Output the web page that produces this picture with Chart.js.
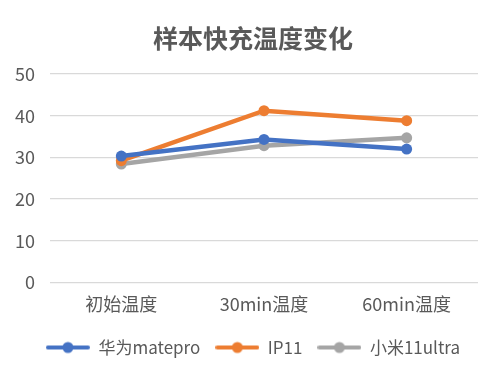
<!DOCTYPE html>
<html>
<head>
<meta charset="utf-8">
<script src="https://cdn.jsdelivr.net/npm/chart.js@4"></script>
<style>
    html, body { margin: 0; padding: 0; background: #fff; }
    #wrap { width: 500px; height: 376px; }
</style>
</head>
<body>
<div id="wrap"><canvas id="chart"></canvas></div>
<script>
const categories = ['初始温度', '30min温度', '60min温度'];
const huawei = [30.3, 34.3, 32.0];
const ip11 = [29.2, 41.2, 38.8];
const xiaomi = [28.4, 32.8, 34.7];
const seriesNames = ['华为matepro', 'IP11', '小米11ultra'];
const seriesColors = ['#4472C4', '#ED7D31', '#A5A5A5'];

const FONT = '"Noto Sans CJK SC", "Noto Sans", sans-serif';
const TEXT = '#595959';

// legend symbol: short line with a dot in the middle
function legendSymbol(color) {
    const c = document.createElement('canvas');
    c.width = 44;
    c.height = 14;
    const g = c.getContext('2d');
    g.strokeStyle = color;
    g.lineWidth = 4;
    g.lineCap = 'round';
    g.beginPath();
    g.moveTo(2, 7);
    g.lineTo(42, 7);
    g.stroke();
    g.fillStyle = color;
    g.beginPath();
    g.arc(22, 7, 5.5, 0, Math.PI * 2);
    g.fill();
    return c;
}

const allData = [huawei, ip11, xiaomi];
const datasets = allData.map((d, i) => ({
    label: seriesNames[i],
    data: d,
    borderColor: seriesColors[i],
    backgroundColor: seriesColors[i],
    borderWidth: 4.5,
    pointRadius: 5.5,
    pointBorderWidth: 0,
    pointHoverRadius: 5.5,
    tension: 0,
    _legendSym: legendSymbol(seriesColors[i])
}));

new Chart(document.getElementById('chart'), {
    type: 'line',
    data: { labels: categories, datasets },
    options: {
        responsive: true,
        maintainAspectRatio: false,
        animation: false,
        layout: { padding: { left: 6, right: 0, top: 6, bottom: 10 } },
        plugins: {
            title: {
                display: true,
                text: '样本快充温度变化',
                color: TEXT,
                font: { family: FONT, size: 25, weight: 'bold' },
                padding: { top: 17, bottom: 21 }
            },
            legend: {
                position: 'bottom',
                labels: {
                    color: TEXT,
                    font: { family: FONT, size: 17 },
                    usePointStyle: true,
                    pointStyleWidth: 44,
                    padding: 15,
                    generateLabels: (chart) => chart.data.datasets.map((ds, i) => ({
                        text: ds.label,
                        fontColor: TEXT,
                        fillStyle: ds.borderColor,
                        strokeStyle: ds.borderColor,
                        lineWidth: 0,
                        pointStyle: ds._legendSym,
                        datasetIndex: i,
                        hidden: false
                    }))
                }
            },
            tooltip: { enabled: false }
        },
        scales: {
            x: {
                offset: true,
                grid: { display: false },
                border: { display: false },
                ticks: { color: TEXT, font: { family: FONT, size: 18 }, padding: 3 },
                afterFit: (s) => { s.height += 6; }
            },
            y: {
                min: 0,
                max: 50,
                ticks: { stepSize: 10, color: TEXT, font: { family: FONT, size: 18 }, padding: 15 },
                grid: { color: '#D9D9D9', lineWidth: 1.3, drawTicks: false },
                border: { display: false },
                afterFit: (s) => { s.width -= 6; }
            },
            // empty axis on the right, only to keep a margin there
            yRight: {
                position: 'right',
                display: true,
                grid: { display: false },
                border: { display: false },
                ticks: { display: false },
                afterFit: (s) => { s.width = 22; }
            }
        }
    }
});
</script>
</body>
</html>
